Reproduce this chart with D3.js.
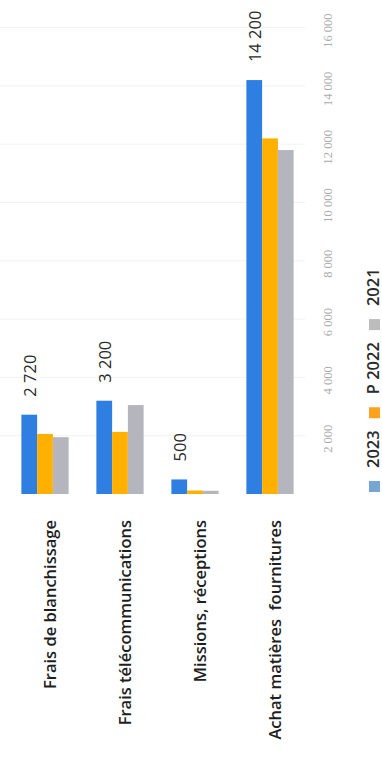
<!DOCTYPE html>
<html>
<head>
<meta charset="utf-8">
<script src="https://cdn.jsdelivr.net/npm/d3@7"></script>
<style>
  body { margin: 0; background: #fff; }
  svg { display: block; }
</style>
</head>
<body>
<div id="chart"></div>
<script>
var categories = ["Frais de blanchissage", "Frais télécommunications", "Missions, réceptions", "Achat matières  fournitures"];
var series = ["2023", "P 2022", "2021"];
var values2023 = [2720, 3200, 500, 14200];
var valuesP2022 = [2060, 2130, 120, 12200];
var values2021 = [1950, 3050, 110, 11800];
var tickValues = [2000, 4000, 6000, 8000, 10000, 12000, 14000, 16000];
var barColors = ["#2f7fe2", "#ffb000", "#b5b5bd"];
var legendColors = ["#78a6d2", "#ffa21f", "#bdbdbd"];

var allValues = [values2023, valuesP2022, values2021];
var data = categories.map((c, i) => ({ cat: c, vals: allValues.map(v => v[i]) }));
var fmt = d => d3.format(",")(d).replace(",", " ");

var svg = d3.select("#chart").append("svg").attr("width", 382).attr("height", 777);

var x = d3.scaleBand().domain(categories).range([7.5, 307.5]).paddingInner(0.37).paddingOuter(0.185);
var xs = d3.scaleBand().domain(series).range([0, x.bandwidth()]);
var y = d3.scaleLinear().domain([0, 16000]).range([494, 27.6]);

// gridlines
svg.append("g").selectAll("line").data(tickValues).enter().append("line")
    .attr("x1", 0).attr("x2", 305).attr("y1", d => y(d)).attr("y2", d => y(d))
    .attr("stroke", "#f2f2f2").attr("stroke-width", 1);

// value axis labels (rotated)
svg.append("g").selectAll("text").data(tickValues).enter().append("text")
    .attr("transform", d => "translate(328," + (y(d) + 3) + ") rotate(-90)")
    .attr("text-anchor", "middle").attr("dominant-baseline", "central")
    .style("font", "12.5px 'Liberation Serif'").attr("fill", "#ababab")
    .text(fmt);

// bars
var groups = svg.append("g").selectAll("g").data(data).enter().append("g")
    .attr("transform", d => "translate(" + x(d.cat) + ",0)");

groups.selectAll("rect").data(d => d.vals.map((v, i) => ({ s: series[i], v: v, i: i }))).enter().append("rect")
    .attr("x", d => xs(d.s)).attr("width", xs.bandwidth())
    .attr("y", d => y(d.v)).attr("height", d => y(0) - y(d.v))
    .attr("fill", d => barColors[d.i]);

// data labels for 2023
groups.append("text")
    .attr("transform", d => "translate(" + (xs("2023") + xs.bandwidth() / 2) + "," + (y(d.vals[0]) - 18) + ") rotate(-90)")
    .attr("text-anchor", "start").attr("dominant-baseline", "central")
    .style("font", "500 16.5px 'Open Sans'").attr("fill", "#2b2b2b")
    .text(d => fmt(d.vals[0]));

// category labels
svg.append("g").selectAll("text").data(categories).enter().append("text")
    .attr("transform", d => "translate(" + (x(d) + x.bandwidth() / 2 + 4) + ",520) rotate(-90)")
    .attr("text-anchor", "end").attr("dominant-baseline", "central")
    .style("font", "600 16.5px 'Open Sans'").attr("fill", "#1e1e1e")
    .style("white-space", "pre")
    .text(d => d);

// legend (rotated, reading bottom to top)
var legend = svg.append("g");
var pos = 492;
series.forEach((s, i) => {
    legend.append("rect").attr("x", 369).attr("y", pos - 11).attr("width", 11).attr("height", 11).attr("fill", legendColors[i]);
    var t = legend.append("text")
        .attr("transform", "translate(372," + (pos - 24) + ") rotate(-90)")
        .attr("text-anchor", "start").attr("dominant-baseline", "central")
        .style("font", "600 16.5px 'Open Sans'").attr("fill", "#2b2b2b")
        .text(s);
    pos = pos - 24 - t.node().getComputedTextLength() - 12;
});
</script>
</body>
</html>
